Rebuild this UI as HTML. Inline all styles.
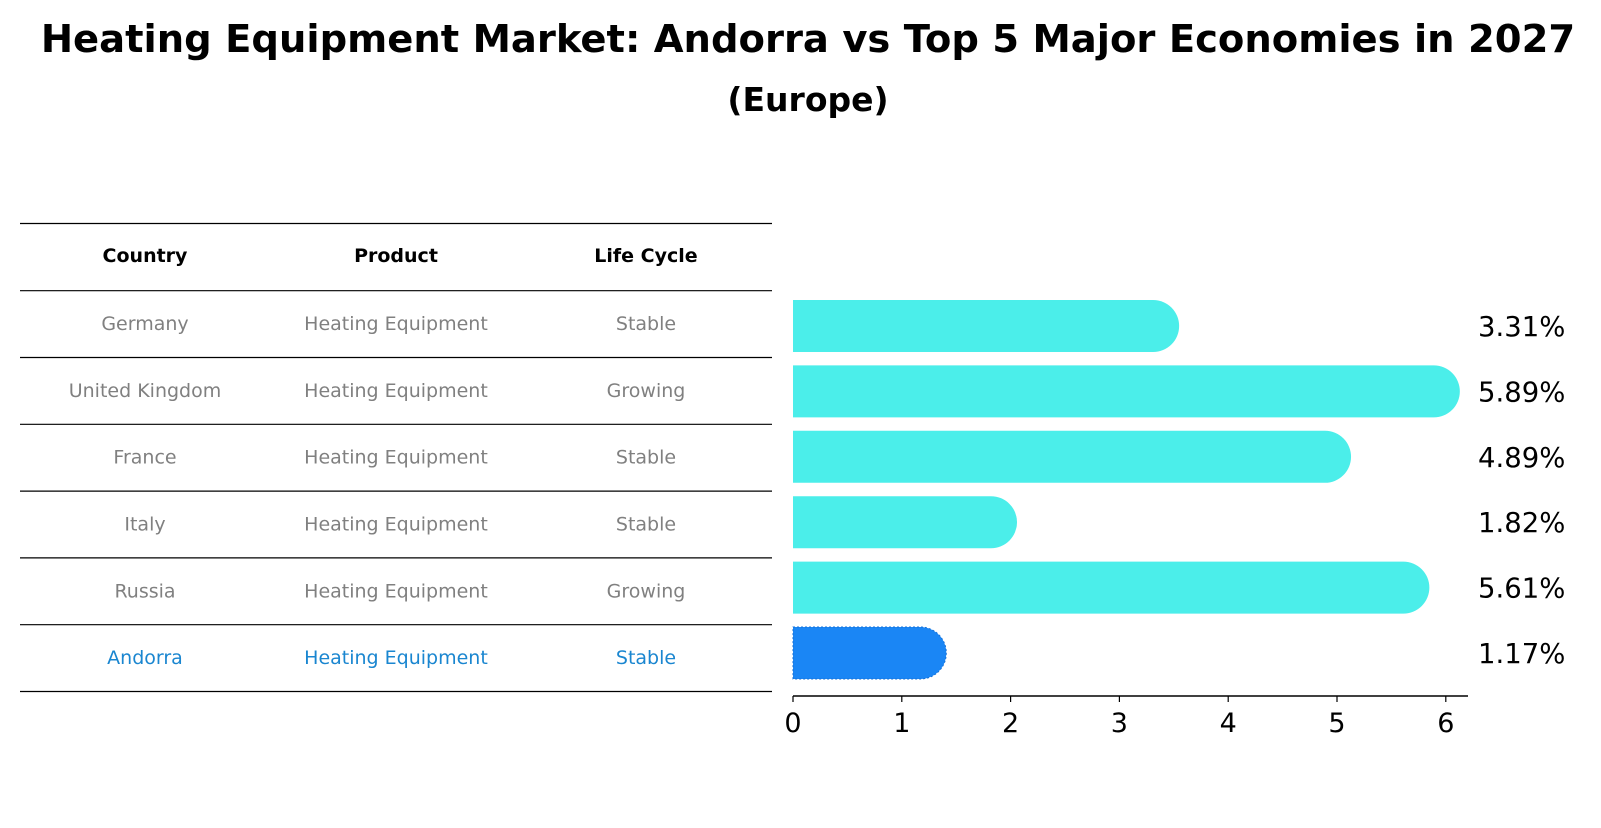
<!DOCTYPE html>
<html><head><meta charset="utf-8"><style>
body{margin:0;background:#fff;font-family:"Liberation Sans","DejaVu Sans",sans-serif}
</style></head><body>
<svg width="1601" height="823" xmlns="http://www.w3.org/2000/svg" font-family="DejaVu Sans, Liberation Sans, sans-serif">
<text x="808" y="52" text-anchor="middle" font-size="38.5" font-weight="bold">Heating Equipment Market: Andorra vs Top 5 Major Economies in 2027</text>
<text x="808" y="111" text-anchor="middle" font-size="33" font-weight="bold">(Europe)</text>
<g id="table"></g>
<g id="bars"></g>
</svg>
<script>
const countries=["Germany","United Kingdom","France","Italy","Russia","Andorra"];
const products=["Heating Equipment","Heating Equipment","Heating Equipment","Heating Equipment","Heating Equipment","Heating Equipment"];
const lifeCycles=["Stable","Growing","Stable","Stable","Growing","Stable"];
const values=[3.31,5.89,4.89,1.82,5.61,1.17];
const ticks=[0,1,2,3,4,5,6];
const NS="http://www.w3.org/2000/svg";
function mk(t,a,p,txt){const e=document.createElementNS(NS,t);for(const k in a)e.setAttribute(k,a[k]);if(txt!=null)e.textContent=txt;p.appendChild(e);return e;}
const tbl=document.getElementById('table'),bars=document.getElementById('bars');
const rowH=66.8;
const cols=[145,396,646];
function ly(i){return i===0?223.5:290.7+(i-1)*rowH;}
for(let i=0;i<=countries.length+1;i++){
 const l=mk('line',{x1:20,x2:772,y1:ly(i),y2:ly(i),stroke:'#000','stroke-width':1.2},tbl);
 
 
}
["Country","Product","Life Cycle"].forEach((h,j)=>{
 const t=mk('text',{x:cols[j],y:(ly(0)+ly(1))/2+5,'text-anchor':'middle','font-size':19,'font-weight':'bold'},tbl,h);
 
 
});
countries.forEach((c,i)=>{
 const y=(ly(i+1)+ly(i+2))/2+6;const col=c==="Andorra"?'#1a86d0':'#808080';
 [c,products[i],lifeCycles[i]].forEach((v,j)=>{
  const t=mk('text',{x:cols[j],y:y,'text-anchor':'middle','font-size':19,fill:col},tbl,v);
  
  
 });
});
const x0=793,ppu=108.8,axisY=696,bh=52,r=26;
function xs(v){return x0+v*ppu;}
function yc(i){return 326+i*65.4;}
values.forEach((v,i)=>{
 const isA=countries[i]==="Andorra";const fill=isA?'#1a86f5':'#4beeea';
 const xe=xs(v),y=yc(i);
 const p=mk('path',{d:`M${x0},${y-bh/2} H${xe} A${r},${r} 0 0 1 ${xe},${y+bh/2} H${x0} Z`,fill:fill},bars);
 if(isA){p.setAttribute('stroke','#1470d8');p.setAttribute('stroke-dasharray','2,2');p.setAttribute('stroke-width','1');}
 
 
 const t=mk('text',{x:1478,y:y+10,'font-size':27.5},bars,v.toFixed(2)+'%');
 
 
});
const ax=mk('line',{x1:x0,x2:1468,y1:axisY,y2:axisY,stroke:'#000','stroke-width':1.5},bars);


ticks.forEach(t=>{
 const tk=mk('line',{x1:xs(t),x2:xs(t),y1:axisY,y2:axisY+6,stroke:'#000','stroke-width':1.2},bars);
 
 
 const tl=mk('text',{x:xs(t),y:axisY+36,'text-anchor':'middle','font-size':27},bars,String(t));
 
 
});
</script>
</body></html>
